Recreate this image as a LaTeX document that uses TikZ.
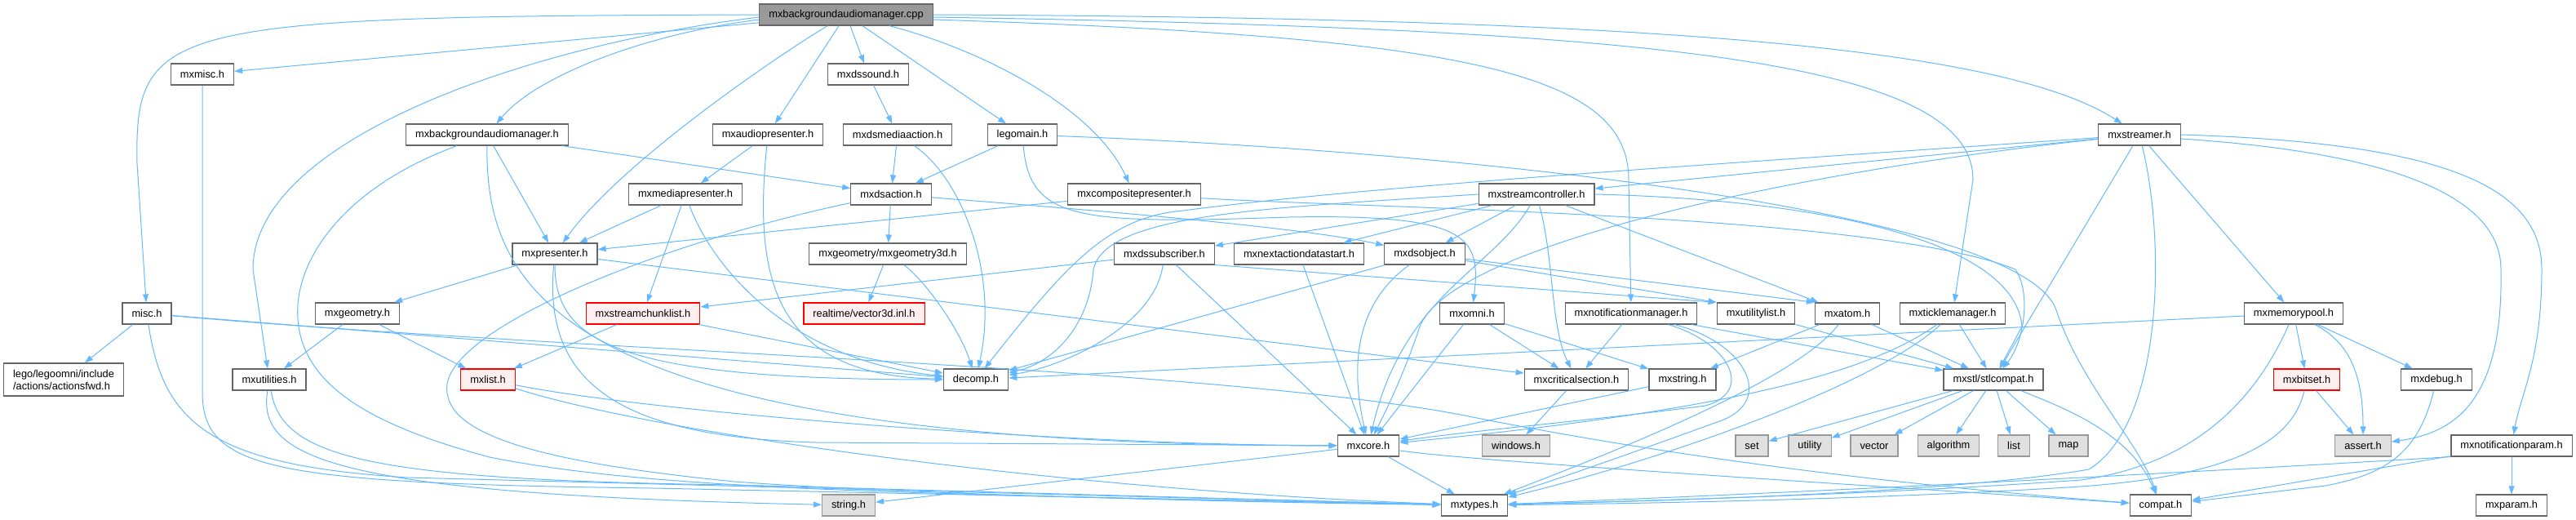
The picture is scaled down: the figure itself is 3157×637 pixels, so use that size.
\documentclass[tikz,border=0pt]{standalone}
\usepackage{fontspec}
\setmainfont{Liberation Sans}
\usetikzlibrary{arrows.meta}
\definecolor{depblue}{HTML}{63B8FF}
\definecolor{boxgray}{HTML}{666666}
\definecolor{sysgray}{HTML}{999999}
\definecolor{sysfill}{HTML}{E0E0E0}
\definecolor{truncfill}{HTML}{FFF0F0}
\tikzset{
  hdr/.style={draw=boxgray,fill=white,line width=1.2pt,minimum height=26pt,inner xsep=11.5pt,inner ysep=0pt,font=\fontsize{12.8}{15}\selectfont},
  root/.style={hdr,fill=sysgray},
  sys/.style={hdr,draw=sysgray,fill=sysfill},
  trunc/.style={hdr,draw=red,fill=truncfill},
  dep/.style={draw=depblue,line width=1pt,-{Triangle[length=10pt,width=7pt]}}
}
\begin{document}
\begin{tikzpicture}[x=1pt,y=-1pt]
\useasboundingbox (0,0) rectangle (3157,637);
\node[root] (cpp) at (1037,18) {mxbackgroundaudiomanager.cpp};
\node[hdr] (mxmisc) at (248,91) {mxmisc.h};
\node[hdr] (dssound) at (1064,91) {mxdssound.h};
\node[hdr] (bgamh) at (597,165) {mxbackgroundaudiomanager.h};
\node[hdr] (audiopres) at (941,165) {mxaudiopresenter.h};
\node[hdr] (dsmedia) at (1100,165) {mxdsmediaaction.h};
\node[hdr] (legomain) at (1253,165) {legomain.h};
\node[hdr] (streamer) at (2622,165) {mxstreamer.h};
\node[hdr] (mediapres) at (840,238) {mxmediapresenter.h};
\node[hdr] (dsaction) at (1092,238) {mxdsaction.h};
\node[hdr] (comppres) at (1390,238) {mxcompositepresenter.h};
\node[hdr] (streamctrl) at (1883,238) {mxstreamcontroller.h};
\node[hdr] (presenter) at (680,311) {mxpresenter.h};
\node[hdr] (geom3d) at (1088,311) {mxgeometry/mxgeometry3d.h};
\node[hdr] (dssub) at (1427,311) {mxdssubscriber.h};
\node[hdr] (nextact) at (1592,311) {mxnextactiondatastart.h};
\node[hdr] (dsobject) at (1746,311) {mxdsobject.h};
\node[hdr] (misc) at (180,384) {misc.h};
\node[hdr] (geometry) at (438,384) {mxgeometry.h};
\node[trunc] (chunklist) at (788,384) {mxstreamchunklist.h};
\node[trunc] (vec3d) at (1059,384) {realtime/vector3d.inl.h};
\node[hdr] (omni) at (1804,384) {mxomni.h};
\node[hdr] (notifmgr) at (1999,384) {mxnotificationmanager.h};
\node[hdr] (utillist) at (2152,384) {mxutilitylist.h};
\node[hdr] (atom) at (2264,384) {mxatom.h};
\node[hdr] (tickle) at (2393,384) {mxticklemanager.h};
\node[hdr] (mempool) at (2811,384) {mxmemorypool.h};
\node[hdr,align=left,minimum height=40pt] (actfwd) at (78,465) {lego/legoomni/include\\/actions/actionsfwd.h};
\node[hdr] (utilities) at (330,465) {mxutilities.h};
\node[trunc] (mxlist) at (598,465) {mxlist.h};
\node[hdr] (decomp) at (1196,465) {decomp.h};
\node[hdr] (critsec) at (1932,465) {mxcriticalsection.h};
\node[hdr] (mxstring) at (2062,465) {mxstring.h};
\node[hdr] (stlcompat) at (2443,465) {mxstl/stlcompat.h};
\node[trunc] (bitset) at (2827,465) {mxbitset.h};
\node[hdr] (mxdebug) at (2986,465) {mxdebug.h};
\node[hdr] (mxcore) at (1677,546) {mxcore.h};
\node[sys] (windows) at (1858,546) {windows.h};
\node[sys] (stdset) at (2147,546) {set};
\node[sys] (stdutility) at (2218,546) {utility};
\node[sys] (stdvector) at (2297,546) {vector};
\node[sys] (stdalgorithm) at (2388,546) {algorithm};
\node[sys] (stdlist) at (2468,546) {list};
\node[sys] (stdmap) at (2535,546) {map};
\node[sys] (assert) at (2896,546) {assert.h};
\node[hdr] (notifparam) at (3078,546) {mxnotificationparam.h};
\node[sys] (stringh) at (1040,619) {string.h};
\node[hdr] (mxtypes) at (1807,619) {mxtypes.h};
\node[hdr] (compat) at (2648,619) {compat.h};
\node[hdr] (mxparam) at (3078,619) {mxparam.h};

\draw[dep] (cpp.west) .. controls (200,20) and (165,30) .. (168,200) -- (misc);
\draw[dep] (cpp) -- (mxmisc);
\draw[dep] ([yshift=-3pt]cpp.west) .. controls (650,55) and (310,170) .. (310,330) -- (utilities);
\draw[dep] ([yshift=-6pt]cpp.west) .. controls (800,40) and (660,90) .. (bgamh);
\draw[dep] (cpp) .. controls (950,70) and (760,200) .. (presenter);
\draw[dep] (cpp) -- (audiopres);
\draw[dep] (cpp) -- (dssound);
\draw[dep] (cpp) -- (legomain);
\draw[dep] (cpp) .. controls (1200,60) and (1340,130) .. (comppres);
\draw[dep] (cpp.east) .. controls (2000,22) and (2450,55) .. (streamer);
\draw[dep] ([yshift=-3pt]cpp.east) .. controls (2000,35) and (2418,70) .. (2418,220) -- (tickle);
\draw[dep] ([yshift=-6pt]cpp.east) .. controls (1800,45) and (1996,90) .. (1996,220) -- (notifmgr);

\draw[dep] (mxmisc) -- (248,480) .. controls (248,575) and (330,592) .. (800,598) -- (mxtypes);

\draw[dep] (misc) -- (actfwd);
\draw[dep] (misc) -- (decomp);
\draw[dep] (misc) .. controls (700,430) and (1500,450) .. (1800,510) .. controls (2100,570) and (2400,600) .. (compat);
\draw[dep] (misc) .. controls (200,520) and (260,570) .. (500,585) -- (mxtypes);

\draw[dep] (bgamh) -- (dsaction);
\draw[dep] (bgamh) -- (presenter);
\draw[dep] (bgamh) .. controls (595,360) and (690,545) .. (mxcore);
\draw[dep] (bgamh) .. controls (420,230) and (360,320) .. (365,390) .. controls (370,470) and (450,520) .. (600,560) .. controls (800,600) and (1100,605) .. (mxtypes);

\draw[dep] (audiopres) -- (mediapres);
\draw[dep] (audiopres) .. controls (925,330) and (940,460) .. (decomp);
\draw[dep] (dssound) -- (dsmedia);
\draw[dep] (dsmedia) -- (dsaction);
\draw[dep] (dsmedia) .. controls (1175,215) and (1225,330) .. (decomp);

\draw[dep] (legomain) -- (dsaction);
\draw[dep] (legomain) .. controls (1262,270) and (1320,275) .. (1580,266) .. controls (1800,262) and (1815,290) .. (omni);
\draw[dep] (legomain) .. controls (1800,185) and (2480,260) .. (2520,380) .. controls (2550,470) and (2620,540) .. (compat);

\draw[dep] (comppres) -- (presenter);
\draw[dep] (comppres) .. controls (1700,256) and (2300,262) .. (2470,330) .. controls (2490,360) and (2480,420) .. (stlcompat);

\draw[dep] (mediapres) -- (presenter);
\draw[dep] (mediapres) -- (chunklist);
\draw[dep] (mediapres) .. controls (870,320) and (960,440) .. (decomp);

\draw[dep] (dsaction) -- (geom3d);
\draw[dep] (dsaction) .. controls (1400,262) and (1600,280) .. (dsobject);
\draw[dep] (dsaction) .. controls (800,300) and (560,400) .. (548,470) .. controls (540,530) and (650,565) .. (900,590) .. controls (1100,605) and (1500,615) .. (mxtypes);

\draw[dep] (presenter) -- (geometry);
\draw[dep] (presenter) .. controls (680,420) and (760,465) .. (decomp);
\draw[dep] (presenter) .. controls (665,470) and (760,535) .. (1000,542) -- (mxcore);
\draw[dep] (presenter) -- (critsec);

\draw[dep] (geometry) -- (utilities);
\draw[dep] (geometry) -- (mxlist);
\draw[dep] (utilities) .. controls (315,560) and (400,605) .. (stringh);
\draw[dep] (utilities) .. controls (345,560) and (450,588) .. (900,594) -- (mxtypes);
\draw[dep] (mxlist) .. controls (800,505) and (1300,545) .. (mxcore);
\draw[dep] (mxlist) .. controls (800,530) and (1300,600) .. (mxtypes);
\draw[dep] (chunklist) -- (mxlist);
\draw[dep] (chunklist) -- (decomp);
\draw[dep] (geom3d) -- (vec3d);
\draw[dep] (geom3d) .. controls (1130,340) and (1175,400) .. (decomp);

\draw[dep] (dssub) -- (chunklist);
\draw[dep] (dssub) .. controls (1415,400) and (1300,450) .. (decomp);
\draw[dep] (dssub) -- (mxcore);
\draw[dep] (dssub.south east) -- (utillist.north west);
\draw[dep] (nextact) -- (mxcore);
\draw[dep] (dsobject) -- (decomp);
\draw[dep] (dsobject) .. controls (1650,380) and (1660,470) .. (mxcore);
\draw[dep] (dsobject) -- (utillist.north west);
\draw[dep] (dsobject) -- (atom.north west);

\draw[dep] (streamctrl.west) .. controls (1550,255) and (1355,262) .. (1340,330) .. controls (1335,400) and (1290,445) .. (decomp);
\draw[dep] (streamctrl) -- (dssub);
\draw[dep] (streamctrl) -- (nextact);
\draw[dep] (streamctrl) -- (dsobject);
\draw[dep] (streamctrl) .. controls (1830,330) and (1720,360) .. (mxcore);
\draw[dep] (streamctrl) .. controls (1905,320) and (1900,400) .. (critsec);
\draw[dep] (streamctrl) -- (atom);
\draw[dep] (streamctrl.east) .. controls (2250,245) and (2470,300) .. (2478,400) -- (stlcompat);

\draw[dep] (omni) -- (critsec);
\draw[dep] (omni) -- (mxstring);
\draw[dep] (omni) -- (mxcore);
\draw[dep] (notifmgr) -- (critsec);
\draw[dep] (notifmgr) .. controls (2120,420) and (2150,480) .. (2090,497) .. controls (1950,515) and (1800,528) .. (mxcore);
\draw[dep] (notifmgr) .. controls (2140,420) and (2175,490) .. (2110,515) .. controls (2000,555) and (1900,590) .. (mxtypes);
\draw[dep] (notifmgr) -- (stlcompat);
\draw[dep] (utillist) -- (stlcompat);
\draw[dep] (atom) -- (mxstring);
\draw[dep] (atom) .. controls (2220,440) and (2120,500) .. (mxtypes);
\draw[dep] (atom) -- (stlcompat);
\draw[dep] (tickle) -- (stlcompat);
\draw[dep] (tickle) .. controls (2300,450) and (2150,500) .. (mxcore);
\draw[dep] (tickle) .. controls (2300,470) and (2050,560) .. (mxtypes);

\draw[dep] (streamer) -- (streamctrl);
\draw[dep] (streamer) .. controls (2200,195) and (1700,225) .. (1450,258) .. controls (1360,266) and (1310,320) .. (decomp);
\draw[dep] (streamer) .. controls (2200,210) and (1780,300) .. (1740,400) .. controls (1720,460) and (1700,500) .. (mxcore);
\draw[dep] (streamer) -- (mempool);
\draw[dep] (streamer) -- (stlcompat);
\draw[dep] (streamer) .. controls (2655,300) and (2650,520) .. (2560,575) .. controls (2400,602) and (2100,612) .. (mxtypes);
\draw[dep] (streamer.east) .. controls (3000,175) and (3115,230) .. (3115,330) .. controls (3115,440) and (3090,480) .. (notifparam);
\draw[dep] ([yshift=-5pt]streamer.east) .. controls (2900,185) and (3065,230) .. (3065,330) .. controls (3068,490) and (3010,530) .. (assert);

\draw[dep] (mempool) -- (decomp);
\draw[dep] (mempool) .. controls (2760,500) and (2680,570) .. (2550,588) .. controls (2300,606) and (2000,614) .. (mxtypes);
\draw[dep] (mempool) -- (bitset);
\draw[dep] (mempool) .. controls (2880,420) and (2896,460) .. (assert);
\draw[dep] (mempool) -- (mxdebug);
\draw[dep] (bitset) -- (assert);
\draw[dep] (bitset) .. controls (2810,540) and (2740,582) .. (2550,596) .. controls (2300,612) and (2000,617) .. (mxtypes);
\draw[dep] (mxdebug) .. controls (2965,550) and (2930,580) .. (2850,595) -- (compat);
\draw[dep] (notifparam) -- (mxparam);
\draw[dep] (notifparam) -- (compat);
\draw[dep] (notifparam.south west) .. controls (2800,572) and (2300,600) .. (mxtypes);

\draw[dep] (stlcompat) -- (stdset);
\draw[dep] (stlcompat) -- (stdutility);
\draw[dep] (stlcompat) -- (stdvector);
\draw[dep] (stlcompat) -- (stdalgorithm);
\draw[dep] (stlcompat) -- (stdlist);
\draw[dep] (stlcompat) -- (stdmap);
\draw[dep] (stlcompat) .. controls (2530,500) and (2610,530) .. (compat);
\draw[dep] (mxcore) -- (mxtypes);
\draw[dep] (mxcore) -- (stringh);
\draw[dep] (mxcore) .. controls (1800,565) and (2300,595) .. (compat);
\draw[dep] (mxstring) -- (mxcore);
\draw[dep] (critsec) -- (windows);
\end{tikzpicture}
\end{document}
